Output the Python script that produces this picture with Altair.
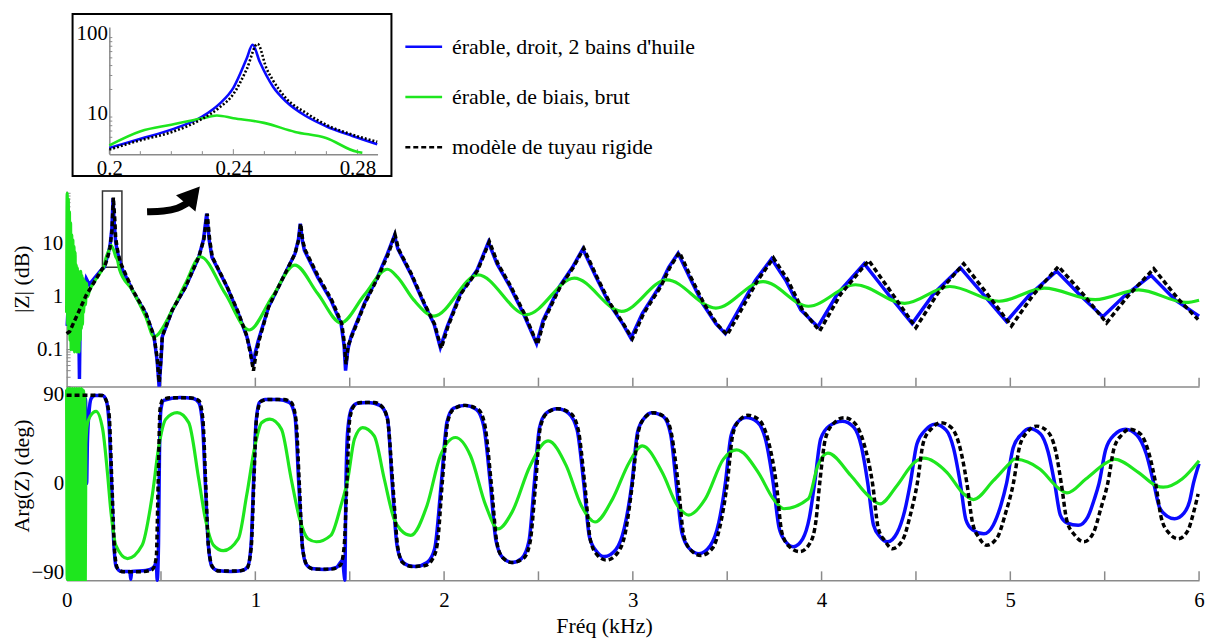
import altair as alt
import pandas as pd

FONT = "Liberation Serif, Times New Roman, Tinos, DejaVu Serif, serif"
BLUE = "#0a0aff"
GREEN = "#1ee61e"
BLACK = "#000000"
GRAY = "#8a8a8a"
W, H = 1140, 570

# ---------------- tick / label lists ----------------
freq_ticks = [0.5, 1.0, 1.5, 2.0, 2.5, 3.0, 3.5, 4.0, 4.5, 5.0, 5.5, 6.0]
freq_labels = [0, 1, 2, 3, 4, 5, 6]
mag_labels = [0.1, 1, 10]
mag_minor = [0.02, 0.03, 0.04, 0.05, 0.06, 0.07, 0.08, 0.09,
             0.2, 0.3, 0.4, 0.5, 0.6, 0.7, 0.8, 0.9,
             2, 3, 4, 5, 6, 7, 8, 9, 20, 30, 40, 50, 60, 70, 80, 90]
phase_labels = [-90, 0, 90]
inset_x_labels = [0.2, 0.24, 0.28]
inset_x_minor = [0.21, 0.22, 0.23, 0.25, 0.26, 0.27]
inset_y_labels = [10, 100]
inset_y_minor = [4, 5, 6, 7, 8, 9, 20, 30, 40, 50, 60, 70, 80, 90]
zoom_box = [(0.19, 0.293, 3.6, 100)]

legend_labels = ["érable, droit, 2 bains d'huile", "érable, de biais, brut", "modèle de tuyau rigide"]

# ---------------- |Z| data (f in kHz, |Z|) ----------------
mag_blue = [
    (0.003, 0.28), (0.01, 0.9), (0.018, 0.35), (0.026, 1.6), (0.034, 0.5), (0.042, 2.2),
    (0.05, 0.7), (0.058, 1.9), (0.064, 0.4), (0.068, 0.028), (0.072, 0.5), (0.08, 1.6),
    (0.09, 1.2), (0.104, 2.2), (0.12, 1.7), (0.15, 2.3), (0.19, 3.4), (0.2, 3.65),
    (0.22, 6.5), (0.23, 9.2), (0.24, 20), (0.246, 73), (0.25, 33.5), (0.26, 10.6),
    (0.27, 6.9), (0.28, 4.9), (0.29, 3.6), (0.349, 1.32), (0.419, 0.48), (0.463, 0.176),
    (0.48, 0.06), (0.49, 0.02), (0.5, 0.06), (0.507, 0.176), (0.56, 0.56), (0.63, 1.53),
    (0.70, 5.6), (0.725, 12), (0.742, 37), (0.755, 12), (0.77, 5.6), (0.85, 1.53),
    (0.91, 0.48), (0.955, 0.176), (0.975, 0.09), (0.987, 0.05), (1.0, 0.09), (1.016, 0.15),
    (1.07, 0.64), (1.14, 2.04), (1.21, 6.5), (1.228, 12), (1.238, 24), (1.25, 11),
    (1.26, 7.5), (1.33, 2.35), (1.40, 0.86), (1.454, 0.31), (1.47, 0.12), (1.478, 0.04),
    (1.49, 0.1), (1.507, 0.176), (1.577, 0.74), (1.647, 2.35), (1.70, 6.5), (1.737, 14.4),
    (1.755, 8), (1.823, 2.73), (1.893, 0.74), (1.946, 0.31), (1.98, 0.11), (2.016, 0.27),
    (2.086, 1.15), (2.174, 3.15), (2.235, 10.7), (2.28, 4.2), (2.35, 1.53), (2.42, 0.48),
    (2.49, 0.13), (2.525, 0.36), (2.61, 1.53), (2.68, 3.6), (2.735, 8.0), (2.805, 2.35),
    (2.875, 0.74), (2.946, 0.31), (2.99, 0.165), (3.05, 0.48), (3.14, 1.53), (3.19, 3.6),
    (3.24, 6.6), (3.30, 2.35), (3.37, 0.74), (3.44, 0.31), (3.49, 0.2), (3.56, 0.56),
    (3.65, 2.04), (3.735, 5.2), (3.81, 2.04), (3.89, 0.56), (3.98, 0.27), (4.085, 1.15),
    (4.226, 4.2), (4.35, 1.15), (4.48, 0.31), (4.595, 1.15), (4.735, 3.53), (4.86, 1.07),
    (4.98, 0.34), (5.10, 1.07), (5.245, 3.05), (5.37, 1.07), (5.49, 0.42), (5.60, 1.0),
    (5.745, 2.53), (5.875, 0.86), (6.0, 0.43),
]
mag_model = [
    (0.0, 0.2), (0.016, 0.22), (0.104, 1.07), (0.19, 3.4), (0.2, 3.55), (0.22, 6.0),
    (0.23, 8.5), (0.24, 17), (0.2477, 75), (0.255, 30), (0.26, 13), (0.27, 7.5),
    (0.28, 5.2), (0.2865, 4.3), (0.349, 1.35), (0.419, 0.5), (0.463, 0.18), (0.48, 0.07),
    (0.49, 0.024), (0.5, 0.07), (0.507, 0.18), (0.56, 0.56), (0.63, 1.53), (0.70, 5.6),
    (0.727, 12), (0.745, 37), (0.758, 12), (0.772, 5.6), (0.85, 1.55), (0.91, 0.5),
    (0.955, 0.18), (0.975, 0.08), (0.99, 0.04), (1.003, 0.08), (1.02, 0.15), (1.07, 0.64),
    (1.14, 2.04), (1.21, 6.5), (1.23, 12), (1.24, 24), (1.252, 11), (1.265, 7.5),
    (1.335, 2.35), (1.405, 0.86), (1.458, 0.31), (1.472, 0.13), (1.48, 0.053), (1.492, 0.12),
    (1.51, 0.176), (1.58, 0.74), (1.65, 2.35), (1.705, 6.5), (1.74, 15), (1.758, 8),
    (1.826, 2.73), (1.896, 0.74), (1.95, 0.3), (1.985, 0.105), (2.02, 0.27), (2.09, 1.15),
    (2.178, 3.15), (2.24, 11), (2.285, 4.2), (2.355, 1.53), (2.425, 0.48), (2.495, 0.125),
    (2.53, 0.36), (2.615, 1.53), (2.685, 3.6), (2.74, 8.2), (2.81, 2.35), (2.88, 0.74),
    (2.952, 0.3), (2.997, 0.16), (3.057, 0.48), (3.147, 1.53), (3.197, 3.6), (3.247, 6.9),
    (3.307, 2.35), (3.377, 0.74), (3.447, 0.3), (3.50, 0.19), (3.57, 0.53), (3.66, 2.0),
    (3.745, 5.4), (3.82, 2.1), (3.9, 0.55), (3.99, 0.225), (4.1, 1.1), (4.25, 4.85),
    (4.37, 1.2), (4.5, 0.26), (4.615, 1.15), (4.753, 4.2), (4.88, 1.1), (5.006, 0.28),
    (5.12, 1.07), (5.255, 3.73), (5.39, 1.07), (5.51, 0.32), (5.62, 1.0), (5.76, 3.38),
    (5.89, 0.9), (5.995, 0.37),
]
mag_green = [
    (0.0, 0.5), (0.003, 90), (0.006, 0.3), (0.009, 70), (0.012, 0.2), (0.015, 40),
    (0.018, 0.15), (0.021, 25), (0.024, 0.1), (0.027, 15), (0.03, 0.12), (0.033, 12),
    (0.036, 0.1), (0.039, 9), (0.042, 0.09), (0.045, 7), (0.048, 0.1), (0.051, 4),
    (0.054, 0.09), (0.057, 3.5), (0.06, 0.12), (0.063, 3), (0.066, 0.09), (0.069, 2.8),
    (0.072, 0.15), (0.075, 3), (0.078, 0.25), (0.081, 2.5), (0.084, 0.3), (0.087, 2.2),
    (0.09, 0.5), (0.095, 2.0), (0.1, 0.7), (0.105, 1.8), (0.11, 1.0), (0.121, 1.3),
    (0.15, 2.0), (0.174, 2.7), (0.2, 4.0), (0.21, 5.6), (0.22, 6.9), (0.23, 8.4),
    (0.235, 9.4), (0.25, 7.5), (0.26, 5.8), (0.27, 4.9), (0.28, 3.3), (0.35, 1.3),
    (0.419, 0.42), (0.463, 0.176), (0.56, 0.56), (0.63, 1.77), (0.709, 5.7), (0.84, 1.15),
    (0.967, 0.235), (1.09, 1.0), (1.209, 3.96), (1.33, 1.15), (1.454, 0.32), (1.577, 1.07),
    (1.70, 3.3), (1.753, 2.35), (1.84, 0.86), (1.946, 0.43), (2.18, 2.58), (2.437, 0.46),
    (2.69, 2.24), (2.94, 0.53), (3.18, 2.08), (3.44, 0.61), (3.69, 1.93), (3.93, 0.66),
    (4.18, 1.68), (4.44, 0.75), (4.68, 1.56), (4.94, 0.82), (5.18, 1.45), (5.45, 0.88),
    (5.68, 1.35), (5.93, 0.78), (6.0, 0.86),
]

# ---------------- Arg(Z) data (f in kHz, degrees) ----------------
ph_blue = [
    (0.0, 88), (0.1, 86), (0.106, 0), (0.11, 40), (0.118, 70), (0.13, 86), (0.15, 89),
    (0.19, 89), (0.21, 84), (0.225, 60), (0.238, 0), (0.25, -60), (0.262, -84), (0.29, -89),
    (0.335, -89), (0.34, -97), (0.345, -89), (0.42, -88), (0.462, -85), (0.475, -80),
    (0.48, -98), (0.487, -60), (0.492, 30), (0.5, 75), (0.515, 84), (0.6, 87), (0.67, 86),
    (0.7, 82), (0.72, 60), (0.735, 0), (0.75, -60), (0.77, -84), (0.8, -88), (0.87, -89),
    (0.93, -88), (0.96, -84), (0.978, -60), (0.99, 0), (1.003, 60), (1.022, 82), (1.05, 85),
    (1.12, 85), (1.18, 82), (1.21, 68), (1.23, 0), (1.25, -65), (1.27, -82), (1.3, -86),
    (1.37, -87), (1.43, -85), (1.462, -78), (1.47, -92), (1.474, -98), (1.48, 0), (1.49, 55),
    (1.51, 76), (1.54, 81), (1.6, 82), (1.66, 79), (1.7, 66), (1.725, 0), (1.75, -62),
    (1.775, -78), (1.81, -83), (1.85, -84), (1.91, -80), (1.95, -66), (1.985, 0), (2.015, 62),
    (2.05, 76), (2.11, 79), (2.17, 75), (2.21, 58), (2.245, 0), (2.275, -58), (2.31, -75),
    (2.36, -80), (2.41, -76), (2.45, -58), (2.478, 0), (2.505, 56), (2.54, 71), (2.6, 75.6),
    (2.66, 71), (2.705, 54), (2.74, 0), (2.77, -54), (2.805, -68), (2.85, -74), (2.91, -67),
    (2.955, -45), (2.995, 0), (3.025, 52), (3.06, 66), (3.1, 71.6), (3.16, 68), (3.2, 50),
    (3.23, 0), (3.26, -50), (3.3, -66), (3.35, -71), (3.41, -63), (3.455, -40), (3.49, 0),
    (3.52, 48), (3.555, 62), (3.6, 66.6), (3.66, 62), (3.705, 43), (3.744, 0), (3.775, -45),
    (3.81, -59), (3.85, -64), (3.9, -56), (3.935, -35), (3.963, 0), (3.995, 45), (4.04, 58),
    (4.11, 63), (4.17, 57), (4.21, 38), (4.245, 0), (4.275, -42), (4.31, -54), (4.35, -59),
    (4.4, -50), (4.44, -28), (4.47, 0), (4.505, 40), (4.55, 54), (4.6, 60), (4.66, 54),
    (4.7, 35), (4.735, 0), (4.765, -37), (4.8, -47), (4.86, -51), (4.91, -42), (4.95, -22),
    (4.98, 0), (5.015, 36), (5.06, 50), (5.1, 55.5), (5.16, 50), (5.2, 32), (5.235, 0),
    (5.265, -32), (5.3, -40), (5.36, -42.4), (5.41, -34), (5.445, -16), (5.47, 0),
    (5.505, 34), (5.55, 49), (5.61, 54.8), (5.67, 49), (5.72, 30), (5.76, 0), (5.79, -24),
    (5.83, -33), (5.87, -35.7), (5.92, -30), (5.95, -18), (5.97, 0), (6.0, 20),
]
ph_model = [
    (0.0, 89.3), (0.1, 89.3), (0.19, 89), (0.205, 86), (0.225, 70), (0.24, 0), (0.255, -70),
    (0.27, -86), (0.3, -89.3), (0.4, -89.3), (0.455, -87), (0.475, -75), (0.485, 0),
    (0.495, 75), (0.51, 85), (0.55, 86.7), (0.65, 86.7), (0.7, 84), (0.722, 65), (0.737, 0),
    (0.752, -65), (0.775, -85), (0.81, -88.7), (0.9, -88.7), (0.955, -86), (0.978, -65),
    (0.992, 0), (1.006, 65), (1.03, 83), (1.07, 85), (1.15, 85), (1.19, 82), (1.215, 65),
    (1.233, 0), (1.25, -65), (1.275, -83), (1.31, -86.7), (1.4, -86.7), (1.45, -83),
    (1.47, -65), (1.485, 0), (1.5, 65), (1.525, 79), (1.56, 82), (1.63, 82), (1.67, 78),
    (1.7, 65), (1.728, 0), (1.755, -65), (1.78, -80), (1.83, -84), (1.9, -83), (1.94, -76),
    (1.965, -60), (1.99, 0), (2.02, 63), (2.05, 75), (2.11, 79), (2.18, 75), (2.215, 60),
    (2.25, 0), (2.28, -60), (2.31, -75), (2.36, -80), (2.42, -76), (2.455, -60), (2.485, 0),
    (2.51, 57), (2.545, 71), (2.6, 75.6), (2.67, 71), (2.71, 55), (2.745, 0), (2.775, -57),
    (2.81, -72), (2.86, -77.6), (2.92, -70), (2.96, -50), (2.998, 0), (3.03, 53),
    (3.065, 67), (3.11, 71.6), (3.17, 67), (3.205, 50), (3.24, 0), (3.27, -53), (3.31, -68),
    (3.36, -73), (3.42, -66), (3.46, -45), (3.5, 0), (3.53, 50), (3.565, 64), (3.61, 69),
    (3.67, 64), (3.715, 45), (3.76, 0), (3.79, -50), (3.83, -64), (3.885, -69), (3.94, -60),
    (3.97, -38), (3.99, 0), (4.02, 45), (4.06, 60), (4.12, 66.6), (4.18, 60), (4.225, 40),
    (4.27, 0), (4.3, -45), (4.335, -58), (4.375, -66), (4.43, -57), (4.47, -32), (4.507, 0),
    (4.54, 42), (4.585, 56), (4.63, 61.5), (4.69, 56), (4.735, 35), (4.77, 0), (4.8, -40),
    (4.835, -55), (4.875, -62.6), (4.93, -55), (4.975, -30), (5.016, 0), (5.05, 38),
    (5.09, 52), (5.14, 58), (5.2, 52), (5.24, 33), (5.27, 0), (5.3, -38), (5.34, -52),
    (5.39, -59), (5.44, -50), (5.48, -25), (5.516, 0), (5.55, 36), (5.59, 49), (5.63, 54.8),
    (5.69, 50), (5.735, 30), (5.77, 0), (5.8, -35), (5.84, -50), (5.89, -56), (5.94, -48),
    (5.97, -30), (5.995, -10.6),
]
ph_green = [
    (0.0, 95), (0.003, -97), (0.006, 96), (0.009, -97), (0.012, 95), (0.015, -97),
    (0.018, 96), (0.021, -97), (0.024, 95), (0.027, -97), (0.03, 96), (0.033, -97),
    (0.036, 95), (0.039, -97), (0.042, 96), (0.045, -97), (0.048, 95), (0.051, -97),
    (0.054, 96), (0.057, -97), (0.06, 95), (0.063, -97), (0.066, 96), (0.069, -97),
    (0.072, 95), (0.075, -97), (0.078, 96), (0.081, -97), (0.084, 95), (0.087, -97),
    (0.09, 94), (0.093, -97), (0.096, 90), (0.099, -97), (0.102, 40), (0.11, 60),
    (0.125, 68), (0.156, 73), (0.191, 55), (0.217, 9.5), (0.235, -29), (0.261, -62.6),
    (0.323, -76), (0.40, -62.6), (0.454, -12), (0.489, 38), (0.525, 65), (0.586, 71.6),
    (0.647, 61.5), (0.70, 4.5), (0.735, -35.7), (0.779, -62.6), (0.83, -68), (0.91, -55.8),
    (0.954, -12), (0.998, 38), (1.033, 61.5), (1.077, 65), (1.138, 55), (1.19, 4.5),
    (1.235, -36), (1.279, -56), (1.323, -59), (1.40, -52.5), (1.454, -22), (1.49, 4.5),
    (1.525, 45), (1.568, 56.5), (1.63, 48), (1.683, 4.5), (1.735, -36), (1.77, -47),
    (1.823, -52.5), (1.91, -22), (1.98, 28), (2.06, 46.5), (2.14, 28), (2.22, -22),
    (2.286, -46), (2.36, -29), (2.456, 18), (2.551, 43), (2.647, 18), (2.726, -22),
    (2.80, -39), (2.893, -15.6), (2.98, 21), (3.05, 38), (3.156, 11), (3.235, -22),
    (3.296, -32), (3.384, -15.6), (3.48, 24.6), (3.55, 34), (3.665, 11), (3.744, -15.6),
    (3.80, -25.6), (3.93, -15.6), (3.98, 18), (4.033, 30.7), (4.156, 7.8), (4.245, -12),
    (4.31, -20.6), (4.40, -2), (4.49, 21), (4.542, 25.6), (4.665, 11), (4.753, -10.6),
    (4.805, -16.3), (4.91, 2.8), (5.0, 21), (5.02, 24.6), (5.156, 14.6), (5.26, -5.5),
    (5.30, -9.6), (5.40, 4.5), (5.51, 21), (5.55, 24.6), (5.68, 11), (5.77, -2),
    (5.81, -3.8), (5.91, 4.5), (6.0, 23),
]

# ---------------- inset data (zoom on first resonance) ----------------
inset_blue = [
    (0.2, 3.68), (0.2101, 4.8), (0.22, 6.25), (0.2301, 9.2), (0.2357, 13.4), (0.24, 21),
    (0.2443, 49), (0.2462, 73), (0.2485, 44.7), (0.2528, 21.7), (0.257, 14.1), (0.2635, 9.2),
    (0.2699, 6.9), (0.2784, 5.2), (0.2864, 4.1),
]
inset_model = [
    (0.2, 3.5), (0.2101, 4.6), (0.22, 5.8), (0.2301, 8.6), (0.2357, 12.0), (0.24, 17.5),
    (0.2443, 36), (0.2478, 75), (0.2507, 36.8), (0.2528, 26), (0.257, 15.5), (0.2635, 10.1),
    (0.2699, 7.2), (0.2784, 5.4), (0.2864, 4.4),
]
inset_green = [
    (0.2, 3.95), (0.2101, 5.95), (0.22, 7.2), (0.2301, 8.7), (0.2347, 9.4), (0.24, 8.7),
    (0.2499, 7.6), (0.2599, 5.85), (0.2699, 4.9), (0.2799, 3.28), (0.2816, 3.2),
]

# ---------------- annotation arrow (relative pixel positions) ----------------
arrow_shaft = [(81, 199), (98, 198.5), (112, 196), (122, 190)]
arrow_head = [(127, 182)]


def df(pairs, cols=("f", "v")):
    return pd.DataFrame(pairs, columns=list(cols))


# ---------------- scales ----------------
xm = alt.Scale(domain=[0, 6], range=[0, W], nice=False, zero=False)
ym = alt.Scale(type="log", domain=[0.02, 100], range=[375, 178], nice=False, clamp=True)
yp = alt.Scale(domain=[-98, 98], range=[570, 375], nice=False, zero=False)
xi = alt.Scale(domain=[0.2, 0.2865], range=[43, 313], nice=False, zero=False)
yi = alt.Scale(type="log", domain=[3.07, 122.4], range=[141, 13], nice=False, clamp=True)

lab = dict(labelFont=FONT, labelFontSize=21, labelColor="black", grid=False,
           domainColor=GRAY, domainWidth=1.5, ticks=False)
tit = dict(titleFont=FONT, titleFontSize=22, titleFontWeight="normal", titleColor="black",
           titleBaseline="middle", titleAlign="center")

ax_mag_x = alt.Axis(orient="bottom", offset=-195, labels=False, title=None, **lab)
ax_mag_y = alt.Axis(orient="left", values=mag_labels, format="~g", labelPadding=4,
                    labelOverlap=False, title="|Z| (dB)", titleX=-45, titleY=266.5,
                    titleAngle=270, **lab, **tit)
ax_ph_x = alt.Axis(orient="bottom", values=freq_labels, format="d", labelPadding=9,
                   labelFlush=False, labelOverlap=False, title="Fréq (kHz)",
                   titleX=541, titleY=46, **lab, **tit)
ax_ph_y = alt.Axis(orient="left", values=phase_labels, format="d", labelPadding=3,
                   labelOverlap=False, title="Arg(Z) (deg)", titleX=-45, titleY=464.5,
                   titleAngle=270, **lab, **tit)
ax_in_x = alt.Axis(orient="bottom", offset=-429, values=inset_x_labels, format="~g",
                   labelPadding=3, labelFlush=False, labelOverlap=False, title=None, **lab)
ax_in_y = alt.Axis(orient="left", offset=-43, values=inset_y_labels, format="~g",
                   labelPadding=2, labelOverlap=False, title=None, **lab)

MX = alt.X("f:Q", scale=xm, axis=ax_mag_x)
MY = alt.Y("v:Q", scale=ym, axis=ax_mag_y)
PX = alt.X("f:Q", scale=xm, axis=ax_ph_x)
PY = alt.Y("v:Q", scale=yp, axis=ax_ph_y)
IX = alt.X("f:Q", scale=xi, axis=ax_in_x)
IY = alt.Y("v:Q", scale=yi, axis=ax_in_y)

# ---------------- magnitude panel ----------------
mag_tx = alt.Chart(pd.DataFrame({"f": freq_ticks})).mark_rule(color=GRAY, strokeWidth=1.5).encode(
    x=MX, y=alt.value(375), y2=alt.value(366))
mag_ty_major = alt.Chart(pd.DataFrame({"v": mag_labels})).mark_rule(color=GRAY, strokeWidth=1.2).encode(
    y=MY, x=alt.value(0), x2=alt.value(7))
mag_ty_minor = alt.Chart(pd.DataFrame({"v": mag_minor})).mark_rule(color=GRAY, strokeWidth=1).encode(
    y=MY, x=alt.value(0), x2=alt.value(4))
zb = pd.DataFrame(zoom_box, columns=["f", "f2", "v", "v2"])
mag_box = alt.Chart(zb).mark_rect(fillOpacity=0, stroke="#333333", strokeWidth=1.5).encode(
    x=MX, x2="f2:Q", y=MY, y2="v2:Q")
mag_b = alt.Chart(df(mag_blue)).mark_line(color=BLUE, strokeWidth=3.5).encode(x=MX, y=MY)
mag_g = alt.Chart(df(mag_green)).mark_line(color=GREEN, strokeWidth=3.2, interpolate="monotone").encode(x=MX, y=MY)
mag_k = alt.Chart(df(mag_model)).mark_line(color=BLACK, strokeWidth=3.5, strokeDash=[5, 3]).encode(x=MX, y=MY)
mag = alt.layer(mag_tx, mag_ty_major, mag_ty_minor, mag_box, mag_b, mag_g, mag_k)

# ---------------- phase panel ----------------
ph_tx = alt.Chart(pd.DataFrame({"f": freq_ticks})).mark_rule(color=GRAY, strokeWidth=1.5).encode(
    x=PX, y=alt.value(570), y2=alt.value(561))
ph_b = alt.Chart(df(ph_blue)).mark_line(color=BLUE, strokeWidth=3.5, interpolate="monotone").encode(x=PX, y=PY)
ph_g = alt.Chart(df(ph_green)).mark_line(color=GREEN, strokeWidth=3.2, interpolate="monotone").encode(x=PX, y=PY)
ph_k = alt.Chart(df(ph_model)).mark_line(color=BLACK, strokeWidth=3.5, strokeDash=[5, 3], interpolate="monotone").encode(x=PX, y=PY)
phase = alt.layer(ph_tx, ph_b, ph_g, ph_k)

# ---------------- inset ----------------
in_frame = alt.Chart(pd.DataFrame({"k": [0]})).mark_rect(fillOpacity=0, stroke="black", strokeWidth=2).encode(
    x=alt.value(6), x2=alt.value(327), y=alt.value(0), y2=alt.value(163))
in_tx_major = alt.Chart(pd.DataFrame({"f": inset_x_labels})).mark_rule(color=GRAY, strokeWidth=1).encode(
    x=IX, y=alt.value(141), y2=alt.value(136))
in_tx_minor = alt.Chart(pd.DataFrame({"f": inset_x_minor})).mark_rule(color=GRAY, strokeWidth=1).encode(
    x=IX, y=alt.value(141), y2=alt.value(138))
in_ty_minor = alt.Chart(pd.DataFrame({"v": inset_y_minor})).mark_rule(color=GRAY, strokeWidth=1).encode(
    y=IY, x=alt.value(43), x2=alt.value(46))
in_b = alt.Chart(df(inset_blue)).mark_line(color=BLUE, strokeWidth=2.6, interpolate="monotone").encode(x=IX, y=IY)
in_g = alt.Chart(df(inset_green)).mark_line(color=GREEN, strokeWidth=2.6, interpolate="monotone").encode(x=IX, y=IY)
in_k = alt.Chart(df(inset_model)).mark_line(color=BLACK, strokeWidth=2.6, strokeDash=[2, 2], interpolate="monotone").encode(x=IX, y=IY)
inset = alt.layer(in_frame, in_tx_major, in_tx_minor, in_ty_minor, in_b, in_g, in_k)

# ---------------- legend ----------------
leg_df = pd.DataFrame({"label": legend_labels})
LY = alt.Y("label:N", scale=alt.Scale(type="point", domain=legend_labels, range=[33, 134], padding=0), axis=None)
leg_lines = alt.Chart(leg_df).mark_rule(strokeWidth=2.5).encode(
    y=LY, x=alt.value(341), x2=alt.value(378),
    color=alt.Color("label:N", scale=alt.Scale(domain=legend_labels, range=[BLUE, GREEN, BLACK]), legend=None),
    strokeDash=alt.StrokeDash("label:N", scale=alt.Scale(domain=legend_labels, range=[[1, 0], [1, 0], [5, 3]]), legend=None))
leg_text = alt.Chart(leg_df).mark_text(align="left", baseline="middle", font=FONT, fontSize=22, color="black").encode(
    y=LY, x=alt.value(388), text="label:N")
legend = alt.layer(leg_lines, leg_text)

# ---------------- arrow ----------------
AX = alt.X("px:Q", scale=alt.Scale(domain=[0, W], range=[0, W], nice=False, zero=False), axis=None)
AY = alt.Y("py:Q", scale=alt.Scale(domain=[0, H], range=[0, H], nice=False, zero=False), axis=None)
arr_line = alt.Chart(pd.DataFrame(arrow_shaft, columns=["px", "py"])).mark_line(
    color="black", strokeWidth=7, interpolate="basis", strokeCap="butt").encode(x=AX, y=AY)
arr_head = alt.Chart(pd.DataFrame(arrow_head, columns=["px", "py"])).mark_point(
    shape="triangle-up", filled=True, color="black", opacity=1, size=650, angle=40).encode(x=AX, y=AY)
arrow = alt.layer(arr_line, arr_head)

chart = alt.layer(mag, phase, inset, legend, arrow).resolve_scale(
    x="independent", y="independent", color="independent", strokeDash="independent"
).resolve_axis(x="independent", y="independent").properties(
    width=W, height=H,
    autosize=alt.AutoSizeParams(type="none"),
    padding={"left": 59, "top": 4, "right": 10, "bottom": 60},
    background="white",
).configure_view(stroke=None)

chart.save("out.html", embed_options={"renderer": "svg", "actions": False})
